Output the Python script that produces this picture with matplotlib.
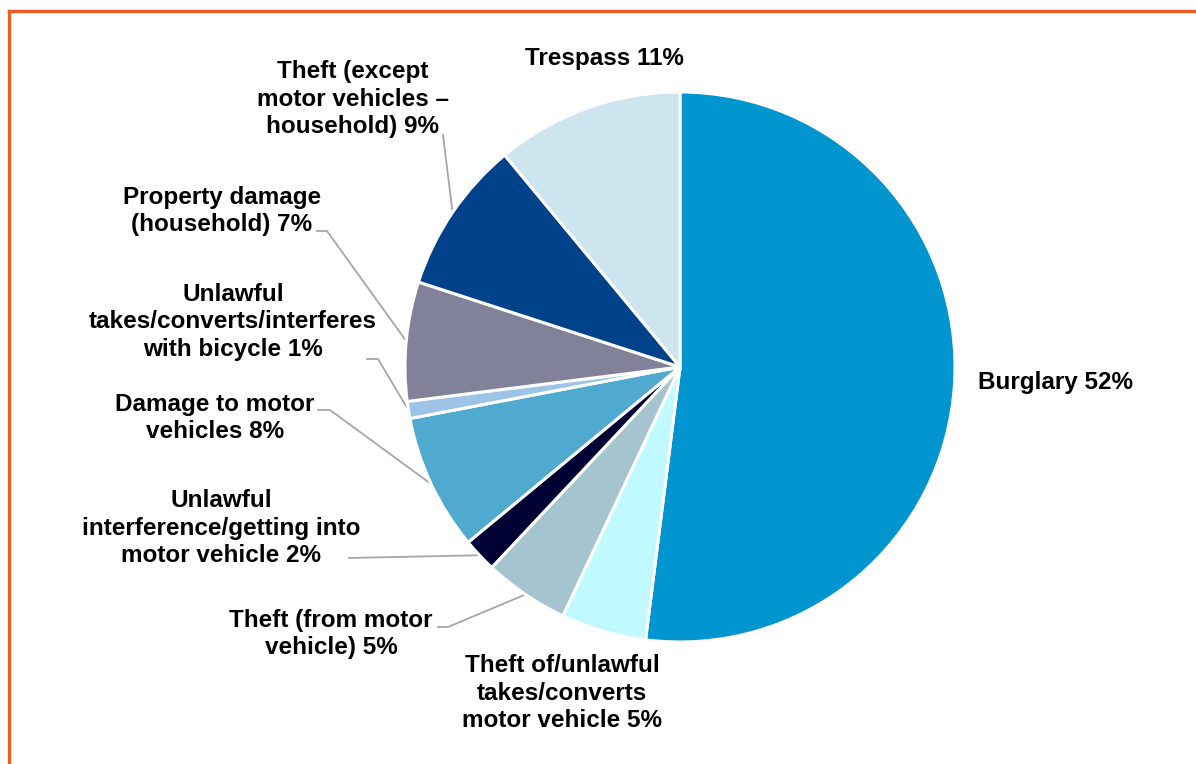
import numpy as np
import matplotlib.pyplot as plt
from matplotlib.lines import Line2D

# Offence categories, clockwise from 12 o'clock
categories = [
    "Burglary",
    "Theft of/unlawful\ntakes/converts\nmotor vehicle",
    "Theft (from motor\nvehicle)",
    "Unlawful\ninterference/getting into\nmotor vehicle",
    "Damage to motor\nvehicles",
    "Unlawful\ntakes/converts/interferes\nwith bicycle",
    "Property damage\n(household)",
    "Theft (except\nmotor vehicles \u2013\nhousehold)",
    "Trespass",
]
shares = [52, 5, 5, 2, 8, 1, 7, 9, 11]
colors = ["#0095CF", "#C0F9FF", "#A6C4D0", "#000033", "#50A9CF",
          "#9DC3E6", "#81819A", "#00428A", "#CDE5EF"]

W, H = 1196, 764
fig = plt.figure(figsize=(W / 100, H / 100), dpi=100)
ax = fig.add_axes([0, 0, 1, 1])

def py(y):
    # pixel row from the top -> axes y
    return H - y

cx, cy, r = 680, py(367), 275
wedges, _ = ax.pie(shares, colors=colors, startangle=90, counterclock=False,
                   center=(cx, cy), radius=r,
                   wedgeprops=dict(edgecolor="white", linewidth=2.2))
ax.set_xlim(0, W)
ax.set_ylim(0, H)
ax.set_aspect("equal")
ax.axis("off")

# label placement: (x, y of text centre, leader anchor, elbow length)
label_pos = [
    (1056, 383, None, 0),
    (562, 693, None, 0),
    (331, 634, (438, 627), 10),
    (221, 528, (349, 558), 0),
    (215, 418, (318, 410), 12),
    (233, 322, (367, 359), 11),
    (222, 211, (317, 231), 10),
    (353, 99, (443, 135), 0),
    (604, 58, None, 0),
]

font = dict(family=["Liberation Sans", "DejaVu Sans"], weight="bold",
            size=17.5, color="black")

for w, cat, val, (tx, ty, anchor, elbow) in zip(wedges, categories, shares, label_pos):
    ax.text(tx, py(ty), f"{cat} {val}%", ha="center", va="center",
            linespacing=1.24, **font)
    if anchor is None:
        continue
    mid = np.deg2rad((w.theta1 + w.theta2) / 2)
    ex, ey = cx + r * np.cos(mid), cy + r * np.sin(mid)
    lx, ly = anchor
    xs = [lx, lx + elbow, ex]
    ys = [py(ly), py(ly), ey]
    ax.plot(xs, ys, color="#A6A6A6", lw=1.3, zorder=0.5)

# orange frame along the top and left edges
fig.add_artist(Line2D([9 / W, 1], [1 - 11 / H, 1 - 11 / H],
                      color="#F15A24", lw=2.4, transform=fig.transFigure))
fig.add_artist(Line2D([9 / W, 9 / W], [0, 1 - 11 / H],
                      color="#F15A24", lw=2.4, transform=fig.transFigure))

fig.savefig("out.png", dpi=100)
